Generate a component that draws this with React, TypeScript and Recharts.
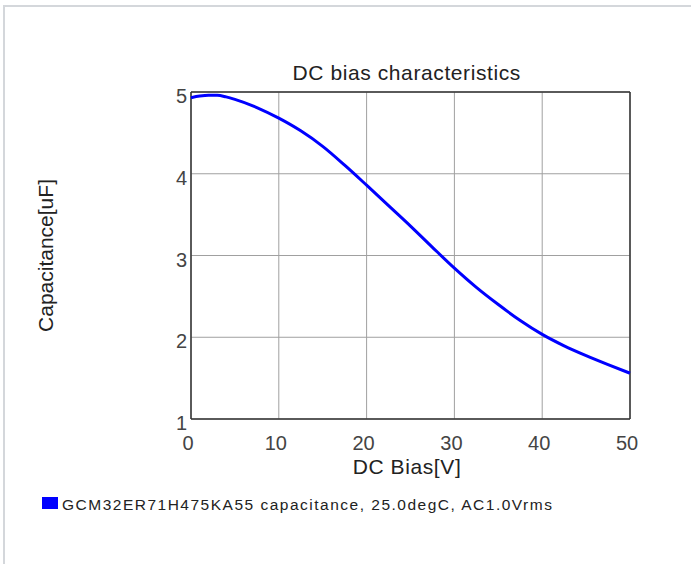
import React from "react";
import { LineChart, Line, XAxis, YAxis, CartesianGrid, ReferenceLine } from "recharts";

const biasV = [0, 1, 2, 3, 4, 5, 7.5, 10, 12.5, 15, 17.5, 20, 22.5, 25, 27.5, 30, 32.5, 35, 37.5, 40, 42.5, 45, 47.5, 50];
const capUF = [4.93, 4.95, 4.96, 4.96, 4.94, 4.91, 4.81, 4.68, 4.525, 4.335, 4.105, 3.86, 3.61, 3.36, 3.1, 2.845, 2.61, 2.4, 2.205, 2.035, 1.895, 1.775, 1.665, 1.56];
const xTicks = [0, 10, 20, 30, 40, 50];
const yTicks = [1, 2, 3, 4, 5];
const title = "DC bias characteristics";
const xLabel = "DC Bias[V]";
const yLabel = "Capacitance[uF]";
const legendText = "GCM32ER71H475KA55 capacitance, 25.0degC, AC1.0Vrms";

const data = biasV.map((v, i) => ({ v, c: capUF[i] }));

const FONT = "'Liberation Sans', Arial, sans-serif";

const YTick = (props: any) => {
  const { x, y, payload } = props;
  return (
    <text x={x} y={y + 11} textAnchor="end" fill="#444" fontSize={20} fontFamily={FONT}>
      {payload.value}
    </text>
  );
};

const XTick = (props: any) => {
  const { x, y, payload } = props;
  return (
    <text x={x - 3} y={y + 31} textAnchor="middle" fill="#444" fontSize={20} fontFamily={FONT}>
      {payload.value}
    </text>
  );
};

export default function App() {
  return (
    <div style={{ position: "absolute", left: 0, top: 0, width: 691, height: 564, background: "#fff", fontFamily: FONT, overflow: "hidden" }}>
      <div style={{ position: "absolute", left: 3, top: 5, width: 700, height: 600, borderLeft: "2px solid #d4d7db", borderTop: "2px solid #d4d7db" }} />
      <div style={{ position: "absolute", left: 0, top: 0 }}>
        <LineChart width={691} height={564} data={data} margin={{ top: 92, right: 61, bottom: 85, left: 151 }}>
          <CartesianGrid stroke="#a0a0a0" strokeWidth={1} horizontalValues={yTicks} verticalValues={xTicks} />
          <XAxis
            dataKey="v"
            type="number"
            domain={[0, 50]}
            ticks={xTicks}
            height={60}
            axisLine={false}
            tickLine={false}
            tickSize={0}
            tickMargin={0}
            tick={<XTick />}
            interval={0}
          />
          <YAxis
            type="number"
            domain={[1, 5]}
            ticks={yTicks}
            width={40}
            axisLine={false}
            tickLine={false}
            tickSize={0}
            tickMargin={4}
            tick={<YTick />}
            interval={0}
          />
          <ReferenceLine x={0} stroke="#333" strokeWidth={1.5} />
          <ReferenceLine x={50} stroke="#333" strokeWidth={1.5} />
          <ReferenceLine y={1} stroke="#333" strokeWidth={1.5} />
          <ReferenceLine y={5} stroke="#333" strokeWidth={1.5} />
          <Line
            type="monotone"
            dataKey="c"
            stroke="#0000ff"
            strokeWidth={3}
            dot={false}
            isAnimationActive={false}
          />
        </LineChart>
      </div>
      <svg width={691} height={564} style={{ position: "absolute", left: 0, top: 0, pointerEvents: "none" }} fontFamily={FONT}>
        <text x={406.7} y={80} textAnchor="middle" fontSize={21} fill="#222" letterSpacing={0.6}>{title}</text>
        <text x={407} y={474} textAnchor="middle" fontSize={21} fill="#222" letterSpacing={0.6}>{xLabel}</text>
        <text x={52.5} y={255.5} textAnchor="middle" fontSize={21} fill="#222" transform="rotate(-90 52.5 255.5)">{yLabel}</text>
        <rect x={42} y={497} width={16} height={12} fill="#0000ff" />
        <text x={62} y={510} fontSize={15.5} fill="#222" letterSpacing={1.5}>{legendText}</text>
      </svg>
    </div>
  );
}
